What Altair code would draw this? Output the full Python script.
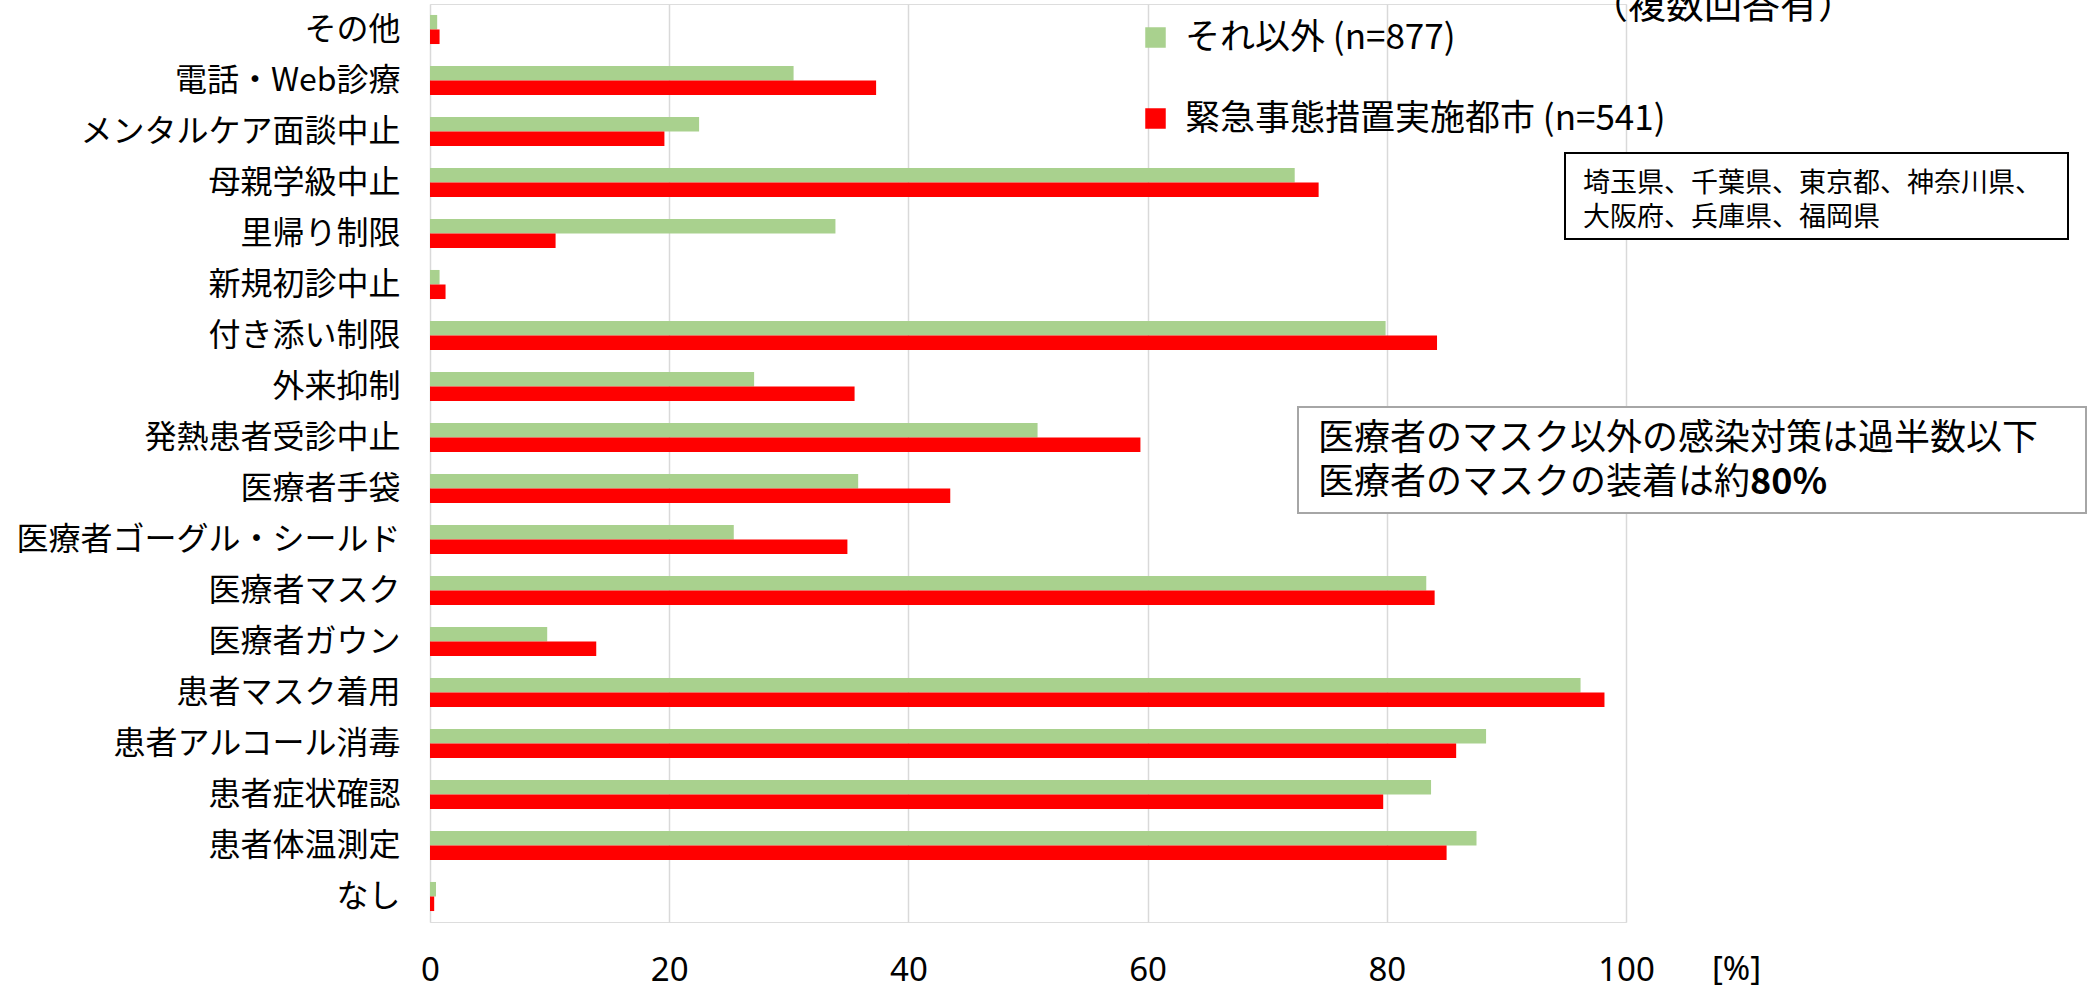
import altair as alt
import pandas as pd

categories = [
    "その他", "電話・Web診療", "メンタルケア面談中止", "母親学級中止", "里帰り制限",
    "新規初診中止", "付き添い制限", "外来抑制", "発熱患者受診中止", "医療者手袋",
    "医療者ゴーグル・シールド", "医療者マスク", "医療者ガウン", "患者マスク着用",
    "患者アルコール消毒", "患者症状確認", "患者体温測定", "なし",
]
series_names = ["それ以外 (n=877)", "緊急事態措置実施都市 (n=541)"]
other_values = [0.6, 30.4, 22.5, 72.3, 33.9, 0.8, 79.9, 27.1, 50.8, 35.8,
                25.4, 83.3, 9.8, 96.2, 88.3, 83.7, 87.5, 0.5]
emergency_values = [0.8, 37.3, 19.6, 74.3, 10.5, 1.3, 84.2, 35.5, 59.4, 43.5,
                    34.9, 84.0, 13.9, 98.2, 85.8, 79.7, 85.0, 0.35]
x_ticks = [0, 20, 40, 60, 80, 100]
x_unit = "[%]"
note_top = "（複数回答有）"
prefecture_lines = ["埼玉県、千葉県、東京都、神奈川県、", "大阪府、兵庫県、福岡県"]
finding_line1 = "医療者のマスク以外の感染対策は過半数以下"
finding_line2 = "医療者のマスクの装着は約"
finding_bold = "80%"

rows = []
for c, a, b in zip(categories, other_values, emergency_values):
    rows.append({"cat": c, "series": series_names[0], "value": a})
    rows.append({"cat": c, "series": series_names[1], "value": b})
df = pd.DataFrame(rows)

FONT = "Noto Sans CJK JP"
W, H = 1196, 918

bars = alt.Chart(df).mark_bar().encode(
    x=alt.X(
        "value:Q",
        scale=alt.Scale(domain=[0, 100], nice=False),
        axis=alt.Axis(
            values=x_ticks, title=x_unit, domain=False, ticks=False, tickSize=0,
            grid=True, gridColor="#d9d9d9", gridWidth=1.5,
            labelFont="Noto Sans", labelFontSize=33, labelColor="black",
            labelPadding=32, labelFlush=False,
            titleFont="Noto Sans", titleFontSize=33, titleFontWeight="normal",
            titleColor="black", titleX=1306, titleY=47, titleAlign="center",
            titleBaseline="middle", titleAngle=0,
        ),
    ),
    y=alt.Y(
        "cat:N", sort=categories, title=None,
        scale=alt.Scale(paddingInner=0.43, paddingOuter=0.215),
        axis=alt.Axis(
            domain=False, ticks=False, tickSize=0, grid=False,
            labelFont=FONT, labelFontSize=32, labelColor="black",
            labelPadding=30, labelLimit=800,
        ),
    ),
    yOffset=alt.YOffset("series:N", sort=series_names, scale=alt.Scale(paddingInner=0)),
    color=alt.Color(
        "series:N", sort=series_names,
        scale=alt.Scale(domain=series_names, range=["#a9d18e", "#ff0000"]),
        legend=alt.Legend(
            title=None, orient="none", legendX=708, legendY=16,
            labelFont=FONT, labelFontSize=35, labelColor="black", labelOffset=12,
            labelLimit=1000, symbolType="square", symbolSize=420,
            symbolStrokeWidth=0, symbolOpacity=1, rowPadding=45, padding=0,
        ),
    ),
)

one = pd.DataFrame({"k": [0]})
base = alt.Chart(one)

top_note = base.mark_text(font=FONT, fontSize=38, align="left", baseline="middle",
                          color="black").encode(
    x=alt.value(1160), y=alt.value(3), text=alt.value(note_top))

box1 = base.mark_rect(fill="white", stroke="black", strokeWidth=2).encode(
    x=alt.value(1135), x2=alt.value(1638), y=alt.value(149), y2=alt.value(235))
box1_l1 = base.mark_text(font=FONT, fontSize=27, align="left", baseline="middle",
                         color="black").encode(
    x=alt.value(1153), y=alt.value(180), text=alt.value(prefecture_lines[0]))
box1_l2 = base.mark_text(font=FONT, fontSize=27, align="left", baseline="middle",
                         color="black").encode(
    x=alt.value(1153), y=alt.value(214), text=alt.value(prefecture_lines[1]))

box2 = base.mark_rect(fill="white", stroke="#a6a6a6", strokeWidth=2).encode(
    x=alt.value(868), x2=alt.value(1656), y=alt.value(403), y2=alt.value(509))
box2_l1 = base.mark_text(font=FONT, fontSize=36, align="left", baseline="middle",
                         color="black").encode(
    x=alt.value(888), y=alt.value(435), text=alt.value(finding_line1))
box2_l2 = base.mark_text(font=FONT, fontSize=36, align="left", baseline="middle",
                         color="black").encode(
    x=alt.value(888), y=alt.value(479), text=alt.value(finding_line2))
box2_bold = base.mark_text(font=FONT, fontSize=36, fontWeight="bold", align="left",
                           baseline="middle", color="black").encode(
    x=alt.value(888 + 36 * len(finding_line2)), y=alt.value(479),
    text=alt.value(finding_bold))

chart = alt.layer(
    bars, top_note, box1, box1_l1, box1_l2, box2, box2_l1, box2_l2, box2_bold
).properties(
    width=W, height=H,
    autosize=alt.AutoSizeParams(type="none"),
    padding={"left": 430, "top": 4, "right": 470, "bottom": 68},
).configure_view(strokeWidth=0).configure(background="white")

chart.save("out.html", embed_options={"renderer": "svg", "actions": False})
